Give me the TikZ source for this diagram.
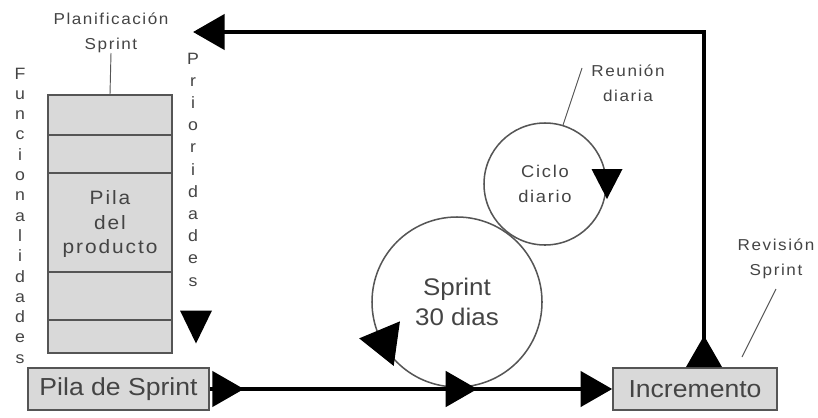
\documentclass[tikz,border=0pt]{standalone}
\usepackage{fontspec}
\setmainfont{Liberation Sans}[FakeStretch=1.08]
\newfontfamily\spacedfont{Liberation Sans}[FakeStretch=1.08,LetterSpace=10]
\usepackage{tikz}
\usetikzlibrary{arrows.meta,decorations.markings}
\definecolor{boxgray}{HTML}{D9D9D9}
\definecolor{edgegray}{HTML}{555555}
\definecolor{textgray}{HTML}{444444}

\begin{document}
\begin{tikzpicture}[
  x=0.03cm,y=-0.03cm,
  stack/.style={rectangle,draw=edgegray,fill=boxgray,line width=1.3pt,minimum width=3.72cm,minimum height=7.74cm,inner sep=0},
  sbox/.style={rectangle,draw=edgegray,fill=boxgray,line width=1.3pt,inner sep=0,minimum height=1.26cm,text=textgray,font=\fontsize{21}{24}\selectfont},
  lbl/.style={align=center,text=textgray,inner sep=0,font=\spacedfont\fontsize{13.5}{21}\selectfont},
  vlet/.style={text=textgray,inner sep=0,anchor=base,font=\spacedfont\fontsize{14}{14}\selectfont},
  loop/.style={circle,draw=edgegray,line width=1.3pt,inner sep=0,align=center,text=textgray},
  flow/.style={line width=4pt},
  leader/.style={draw=edgegray,line width=0.8pt},
  bighead/.tip={Triangle[length=9.5mm,width=10.5mm]},
  pics/arrowhd/.style args={#1/#2}{code={\fill (#1/2,0) -- (-#1/2,#2/2) -- (-#1/2,-#2/2) -- cycle;}}
]
\useasboundingbox (0,0) rectangle (818,417);

% product backlog stack
\node[stack] (backlog) at (110,224) {};
\foreach \yy in {135,173,272,320}
  \draw[leader,line width=1.3pt] (backlog.west |- 0,\yy) -- (backlog.east |- 0,\yy);
\node[lbl,font=\spacedfont\fontsize{16.5}{21}\selectfont] (backtxt) at (110,224) {Pila\\del\\producto};
\node[lbl] (plan) at (111,33) {Planificación\\Sprint};
\draw[leader] (backlog.north) -- (plan.south);

% vertical side labels
\foreach \letr [count=\k] in {F,u,n,c,i,o,n,a,l,i,d,a,d,e,s}
  \node[vlet] (fn\k) at (20,{79+20.3*(\k-1)}) {\letr};
\foreach \letr [count=\k] in {P,r,i,o,r,i,d,a,d,e,s}
  \node[vlet] (pr\k) at (193,{64+22.2*(\k-1)}) {\letr};
\pic at (196,327) [rotate=-90] {arrowhd=33/32};

% sprint backlog and increment
\node[sbox,minimum width=5.43cm] (sprintlog) at (118.5,389) {Pila de Sprint};
\node[sbox,minimum width=4.92cm] (incr) at (695,389) {Incremento};

% sprint and daily cycles
\node[loop,minimum size=5.1cm,font=\fontsize{20.5}{25.5}\selectfont] (sprint) at (457,302) {Sprint\\30 dias};
\node[loop,minimum size=3.66cm,font=\spacedfont\fontsize{14.5}{21}\selectfont] (daily) at (545,184) {Ciclo\\diario};
\pic at (607,184) [rotate=-90] {arrowhd=30/31};
\pic at (378,341) [rotate=172] {arrowhd=38/45};

\node[lbl] (meet) at (628,83) {Reunión\\diaria};
\coordinate (meetpt) at (582,68);
\draw[leader] (daily.73) -- (meetpt);

\node[lbl] (review) at (776,259) {Revisión\\Sprint};
\coordinate (revpt) at (742,357);
\draw[leader] (revpt) -- ([yshift=-0.3cm]review.south);

% main flow
\draw[flow,-{bighead},
  postaction={decorate,decoration={markings,
    mark=at position 0.085 with {\arrow{bighead}},
    mark=at position 0.665 with {\arrow{bighead}}}}]
  (sprintlog.east) -- (incr.west);

% feedback to planning
\coordinate (riser) at (704,0);
\coordinate (planin) at (193,32);
\draw[flow,{bighead[reversed]}-{bighead}] (incr.north -| riser) |- (planin);
\end{tikzpicture}
\end{document}
